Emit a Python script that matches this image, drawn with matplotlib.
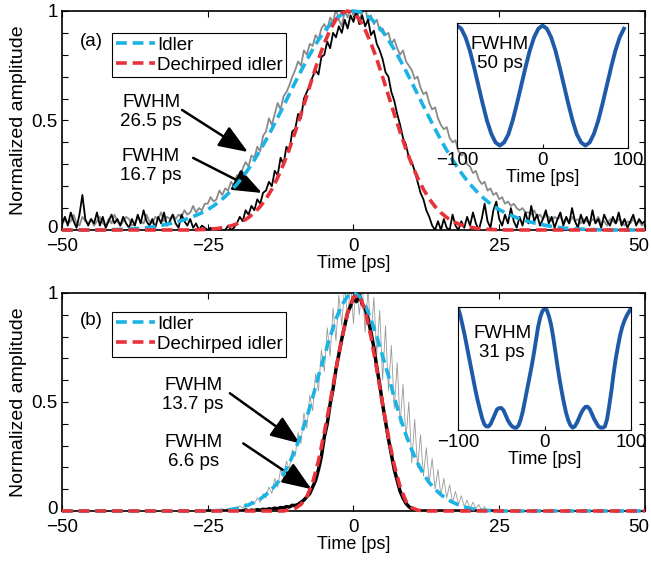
import numpy as np
import matplotlib.pyplot as plt
from matplotlib.ticker import MultipleLocator
from matplotlib.transforms import ScaledTranslation

plt.rcParams['font.family'] = 'Liberation Sans'

#%% time grids
t_fit = np.arange(-50, 51, 1.0)        # fitted gaussians, 1 ps step
t_a = np.arange(-50, 50.5, 0.5)        # measured traces panel (a)
t_b = np.arange(-25, 25.5, 0.5)        # measured traces panel (b)
t_ins_a = np.arange(-100, 100, 5.0)
t_ins_b = np.arange(-100, 102.5, 2.5)

#%% panel (a) measured traces
idler_a = [0.02, 0.05, 0.03, 0.04, 0.07, 0.03, 0.02, 0.06, 0.04, 0.03,
           0.05, 0.02, 0.04, 0.06, 0.03, 0.02, 0.05, 0.03, 0.07, 0.04,
           0.02, 0.04, 0.06, 0.05, 0.02, 0.03, 0.06, 0.04, 0.03, 0.07,
           0.04, 0.03, 0.06, 0.05, 0.08, 0.04, 0.06, 0.05, 0.07, 0.05,
           0.07, 0.06, 0.09, 0.07, 0.08, 0.11, 0.08, 0.10, 0.09, 0.12,
           0.12, 0.15, 0.13, 0.14, 0.18, 0.16, 0.19, 0.18, 0.22, 0.20,
           0.25, 0.23, 0.28, 0.31, 0.29, 0.34, 0.33, 0.38, 0.36, 0.43,
           0.45, 0.51, 0.48, 0.53, 0.58, 0.55, 0.61, 0.63, 0.66, 0.70,
           0.73, 0.77, 0.75, 0.82, 0.80, 0.85, 0.84, 0.89, 0.87, 0.92,
           0.94, 0.91, 0.97, 0.95, 1.01, 0.96, 0.93, 1.00, 0.97, 1.02,
           0.98, 1.01, 0.96, 0.99, 1.02, 0.95, 0.98, 0.94, 0.96, 0.91,
           0.92, 0.89, 0.90, 0.85, 0.87, 0.83, 0.80, 0.82, 0.77, 0.75,
           0.73, 0.69, 0.70, 0.65, 0.62, 0.63, 0.58, 0.55, 0.56, 0.51,
           0.48, 0.46, 0.47, 0.42, 0.40, 0.41, 0.36, 0.34, 0.35, 0.30,
           0.29, 0.26, 0.27, 0.23, 0.21, 0.22, 0.18, 0.19, 0.16, 0.17,
           0.14, 0.15, 0.12, 0.13, 0.11, 0.12, 0.10, 0.09, 0.10, 0.08,
           0.08, 0.07, 0.09, 0.06, 0.07, 0.05, 0.07, 0.06, 0.04, 0.06,
           0.05, 0.06, 0.04, 0.05, 0.03, 0.06, 0.04, 0.05, 0.03, 0.05,
           0.04, 0.03, 0.05, 0.04, 0.06, 0.03, 0.04, 0.02, 0.05, 0.04,
           0.03, 0.05, 0.04, 0.02, 0.04, 0.03, 0.05, 0.03, 0.04, 0.02,
           0.03]
dech_a = [0.03, 0.06, 0.02, 0.08, 0.04, 0.01, 0.07, 0.16, 0.05, 0.02,
          0.05, 0.03, 0.08, 0.02, 0.06, 0.01, 0.04, 0.07, 0.03, 0.05,
          0.02, 0.06, 0.03, 0.01, 0.05, 0.02, 0.07, 0.03, 0.09, 0.04,
          0.02, 0.05, 0.01, 0.06, 0.03, 0.08, 0.02, 0.04, 0.07, 0.03,
          0.01, 0.07, 0.04, 0.02, 0.05, 0.01, 0.03, 0.00, 0.02, 0.01,
          0.00, 0.01, 0.00, 0.00, 0.01, 0.00, 0.00, 0.02, 0.00, 0.01,
          0.03, 0.06, 0.04, 0.09, 0.07, 0.11, 0.09, 0.14, 0.12, 0.17,
          0.18, 0.22, 0.20, 0.27, 0.25, 0.33, 0.30, 0.38, 0.36, 0.45,
          0.46, 0.53, 0.51, 0.60, 0.63, 0.66, 0.70, 0.73, 0.71, 0.79,
          0.80, 0.86, 0.83, 0.90, 0.88, 0.93, 0.90, 0.96, 0.92, 0.98,
          0.95, 1.00, 0.94, 0.98, 0.93, 0.96, 0.89, 0.91, 0.85, 0.82,
          0.78, 0.72, 0.70, 0.63, 0.59, 0.53, 0.48, 0.42, 0.39, 0.33,
          0.31, 0.27, 0.22, 0.17, 0.14, 0.09, 0.06, 0.02, 0.00, 0.04,
          0.00, 0.05, 0.01, 0.00, 0.07, 0.02, 0.00, 0.04, 0.01, 0.06,
          0.02, 0.08, 0.03, 0.00, 0.05, 0.12, 0.04, 0.01, 0.09, 0.13,
          0.05, 0.02, 0.07, 0.03, 0.10, 0.04, 0.01, 0.06, 0.02, 0.08,
          0.03, 0.11, 0.04, 0.07, 0.02, 0.05, 0.09, 0.03, 0.06, 0.01,
          0.05, 0.08, 0.02, 0.06, 0.03, 0.10, 0.04, 0.01, 0.07, 0.03,
          0.06, 0.02, 0.09, 0.03, 0.05, 0.01, 0.07, 0.04, 0.02, 0.06,
          0.03, 0.08, 0.02, 0.05, 0.01, 0.04, 0.07, 0.02, 0.05, 0.03,
          0.04]

#%% panel (a) gaussian fits
fit_idler_a = [0, 0, 0, 0, 0, 0, 0, 0, 0.001, 0.002,
               0.003, 0.004, 0.005, 0.007, 0.009, 0.012, 0.016, 0.021, 0.026, 0.032,
               0.039, 0.047, 0.056, 0.067, 0.079, 0.093, 0.110, 0.130, 0.153, 0.180,
               0.209, 0.242, 0.279, 0.320, 0.364, 0.411, 0.461, 0.513, 0.566, 0.620,
               0.674, 0.726, 0.777, 0.824, 0.868, 0.906, 0.939, 0.965, 0.984, 0.996,
               1.000,
               0.996, 0.984, 0.965, 0.939, 0.906, 0.868, 0.824, 0.777, 0.726, 0.674,
               0.620, 0.566, 0.513, 0.461, 0.411, 0.364, 0.320, 0.279, 0.242, 0.209,
               0.180, 0.153, 0.130, 0.110, 0.093, 0.079, 0.067, 0.056, 0.047, 0.039,
               0.032, 0.026, 0.021, 0.016, 0.012, 0.009, 0.007, 0.005, 0.004, 0.003,
               0.002, 0.001, 0, 0, 0, 0, 0, 0, 0, 0]
fit_dech_a = ([0.0] * 20 +
              [0, 0, 0, 0.001, 0.002, 0.003, 0.005, 0.008, 0.013, 0.019,
               0.028, 0.040, 0.057, 0.079, 0.107, 0.142, 0.186, 0.239, 0.300, 0.370,
               0.447, 0.529, 0.614, 0.699, 0.780, 0.853, 0.914, 0.961, 0.990, 1.000,
               0.990,
               0.961, 0.914, 0.853, 0.780, 0.699, 0.614, 0.529, 0.447, 0.370, 0.300,
               0.239, 0.186, 0.142, 0.107, 0.079, 0.057, 0.040, 0.028, 0.019, 0.013,
               0.008, 0.005, 0.003, 0.002, 0.001, 0, 0, 0, 0, 0] +
              [0.0] * 20)

#%% panel (b) measured traces
idler_b = [0.0, 0.004, 0.0, 0.008, 0.002, 0.01, 0.003, 0.012, 0.005, 0.016,
           0.008, 0.024, 0.012, 0.035, 0.02, 0.045, 0.03, 0.06, 0.04, 0.08,
           0.06, 0.11, 0.08, 0.15, 0.11, 0.19, 0.15, 0.23, 0.19, 0.28,
           0.25, 0.36, 0.31, 0.45, 0.38, 0.53, 0.46, 0.63, 0.55, 0.74,
           0.64, 0.84, 0.71, 0.93, 0.78, 0.99, 0.85, 1.04, 0.88, 1.05,
           0.86, 1.06, 0.90, 1.04, 0.82, 1.02, 0.80, 0.98, 0.72, 0.92,
           0.60, 0.85, 0.55, 0.76, 0.47, 0.68, 0.40, 0.58, 0.33, 0.50,
           0.22, 0.42, 0.20, 0.35, 0.16, 0.29, 0.13, 0.24, 0.10, 0.19,
           0.07, 0.15, 0.06, 0.12, 0.04, 0.09, 0.03, 0.07, 0.02, 0.05,
           0.01, 0.04, 0.01, 0.03, 0.0, 0.02, 0.0, 0.01, 0.0, 0.005,
           0.0]
dech_b = [0, 0, 0, 0, 0, 0, 0, 0, 0, 0,
          0, 0, 0, 0.005, 0, 0.004, 0.002, 0.006, 0.003, 0.008,
          0.006, 0.01, 0.008, 0.013, 0.01, 0.016, 0.014, 0.02, 0.018, 0.026,
          0.025, 0.03, 0.04, 0.05, 0.065, 0.08, 0.11, 0.14, 0.19, 0.25,
          0.34, 0.40, 0.49, 0.56, 0.65, 0.72, 0.79, 0.85, 0.91, 0.94,
          0.98, 0.96, 0.99, 0.95, 0.93, 0.88, 0.82, 0.75, 0.66, 0.58,
          0.49, 0.41, 0.33, 0.26, 0.19, 0.14, 0.09, 0.06, 0.035, 0.02,
          0.01, 0.005, 0, 0, 0, 0, 0, 0, 0, 0,
          0, 0, 0, 0, 0, 0, 0, 0, 0, 0,
          0, 0, 0, 0, 0, 0, 0, 0, 0, 0,
          0]

#%% panel (b) fits
fit_idler_b = ([0.0] * 20 +
               [0, 0, 0, 0, 0, 0, 0.001, 0.002, 0.004, 0.007,
                0.012, 0.019, 0.028, 0.04, 0.055, 0.075, 0.10, 0.13, 0.17, 0.22,
                0.28, 0.35, 0.43, 0.52, 0.62, 0.71, 0.80, 0.88, 0.945, 0.985,
                1.0,
                0.985, 0.945, 0.88, 0.80, 0.71, 0.62, 0.52, 0.43, 0.35, 0.28,
                0.22, 0.17, 0.13, 0.10, 0.075, 0.055, 0.04, 0.028, 0.019, 0.012,
                0.007, 0.004, 0.002, 0.001, 0, 0, 0, 0, 0, 0] +
               [0.0] * 20)
fit_dech_b = ([0.0] * 30 +
              [0, 0, 0, 0, 0, 0, 0, 0, 0, 0.005,
               0.012, 0.03, 0.065, 0.13, 0.23, 0.36, 0.50, 0.65, 0.79, 0.91,
               0.98,
               0.99, 0.92, 0.80, 0.65, 0.49, 0.34, 0.21, 0.11, 0.045, 0.015,
               0.004, 0, 0, 0, 0, 0, 0, 0, 0, 0] +
              [0.0] * 30)

#%% insets (autocorrelation)
ins_a = [0.98, 0.955, 0.885, 0.78, 0.645, 0.50, 0.355, 0.22, 0.115, 0.045,
         0.02, 0.045, 0.11, 0.22, 0.355, 0.50, 0.645, 0.78, 0.885, 0.955,
         0.98, 0.955, 0.885, 0.78, 0.645, 0.50, 0.355, 0.22, 0.11, 0.045,
         0.02, 0.045, 0.115, 0.22, 0.355, 0.50, 0.645, 0.78, 0.885, 0.955]
ins_b = [0.99, 0.93, 0.85, 0.77, 0.68, 0.59, 0.50, 0.41, 0.32, 0.24,
         0.17, 0.10, 0.05, 0.03, 0.03, 0.05, 0.09, 0.13, 0.17, 0.18,
         0.18, 0.16, 0.12, 0.08, 0.05, 0.03, 0.02, 0.02, 0.04, 0.09,
         0.16, 0.25, 0.34, 0.43, 0.52, 0.62, 0.73, 0.84, 0.92, 0.97,
         0.99,
         0.98, 0.93, 0.86, 0.76, 0.64, 0.52, 0.41, 0.31, 0.22, 0.14,
         0.08, 0.04, 0.02, 0.03, 0.06, 0.10, 0.14, 0.17, 0.19, 0.19,
         0.17, 0.13, 0.09, 0.06, 0.03, 0.02, 0.02, 0.03, 0.09, 0.20,
         0.32, 0.46, 0.58, 0.68, 0.77, 0.84, 0.89, 0.93, 0.96, 0.99]

BLUE = '#1ab3e6'
RED = '#e8323a'
INS = '#1f5aa8'
FS = 13.5
arrow = dict(arrowstyle='-|>,head_length=0.9,head_width=0.35', mutation_scale=20,
             lw=1.8, color='k', shrinkA=0, shrinkB=0)

fig = plt.figure(figsize=(6.51, 5.63), dpi=100)

panels = [
    dict(rect=[0.0952, 0.5915, 0.8955, 0.389], inset=[0.702, 0.737, 0.263, 0.222],
         t=t_a, idler=idler_a, dech=dech_a, fi=fit_idler_a, fd=fit_dech_a,
         gray_lw=1.3, black_lw=1.3, gray_c='#8a8a8a', tag='(a)', leg_top=0.90,
         notes=[('FWHM\n26.5 ps', (-34.7, 0.54), (-18.1, 0.356), (-29.4, 0.548)),
                ('FWHM\n16.7 ps', (-34.8, 0.29), (-15.7, 0.169), (-27.5, 0.329))],
         ins_t=t_ins_a, ins_y=ins_a, ins_txt='FWHM\n50 ps', ins_xy=(-50, 0.75)),
    dict(rect=[0.0952, 0.0924, 0.8955, 0.3872], inset=[0.704, 0.236, 0.265, 0.218],
         t=t_b, idler=idler_b, dech=dech_b, fi=fit_idler_b, fd=fit_dech_b,
         gray_lw=0.6, black_lw=2.5, gray_c='#999999', tag='(b)', leg_top=0.913,
         notes=[('FWHM\n13.7 ps', (-27.5, 0.53), (-9.2, 0.31), (-21.2, 0.54)),
                ('FWHM\n6.6 ps', (-27.4, 0.27), (-7.2, 0.10), (-18.9, 0.31))],
         ins_t=t_ins_b, ins_y=ins_b, ins_txt='FWHM\n31 ps', ins_xy=(-49, 0.71)),
]

for p in panels:
    ax = fig.add_axes(p['rect'])
    ax.plot(p['t'], p['idler'], color=p['gray_c'], lw=p['gray_lw'], zorder=2)
    ax.plot(p['t'], p['dech'], color='k', lw=p['black_lw'], zorder=3)
    l1, = ax.plot(t_fit, p['fi'], color=BLUE, lw=2.6, dashes=(3, 1.6), zorder=4,
                  clip_on=False, label='Idler')
    l2, = ax.plot(t_fit, p['fd'], color=RED, lw=2.6, dashes=(3, 1.6), zorder=5,
                  clip_on=False, label='Dechirped idler')
    ax.set_xlim(-50, 50)
    ax.set_ylim(0, 1)
    ax.set_xticks([-50, -25, 0, 25, 50])
    ax.set_yticks([0, 0.5, 1])
    ax.set_yticklabels(['0', '0.5', '1'])
    ax.yaxis.set_minor_locator(MultipleLocator(0.1))
    ax.tick_params(which='both', direction='in', top=True, right=True,
                   length=4, width=0.8, labelsize=FS, pad=3)
    ax.tick_params(axis='x', pad=6)
    # keep the "50" label inside the picture, lift the y "0" off the x labels
    lab = ax.xaxis.get_major_ticks()[-1].label1
    lab.set_transform(lab.get_transform() + ScaledTranslation(-0.06, 0, fig.dpi_scale_trans))
    lab0 = ax.yaxis.get_major_ticks()[0].label1
    lab0.set_transform(lab0.get_transform() + ScaledTranslation(0, 0.03, fig.dpi_scale_trans))
    for s in ax.spines.values():
        s.set_linewidth(1.2)
    ax.set_xlabel('Time [ps]', fontsize=13, labelpad=0)
    ax.set_ylabel('Normalized amplitude', fontsize=14, labelpad=3)
    ax.text(-44.9, p['leg_top'] - 0.04, p['tag'], fontsize=FS, ha='center', va='center')
    leg = ax.legend(handles=[l1, l2], loc='upper left', bbox_to_anchor=(0.0858, p['leg_top']),
                    fontsize=FS, fancybox=False, edgecolor='k', framealpha=1,
                    borderpad=0.2, labelspacing=0.15, handlelength=2.1,
                    handletextpad=0.1, borderaxespad=0)
    leg.get_frame().set_linewidth(0.8)
    for txt, xy, tip, tail in p['notes']:
        ax.text(xy[0], xy[1], txt, fontsize=FS, ha='center', va='center',
                multialignment='center', linespacing=1.15)
        ax.annotate('', xy=tip, xytext=tail, arrowprops=arrow)

    ins = fig.add_axes(p['inset'])
    ins.plot(p['ins_t'], p['ins_y'], color=INS, lw=2.8)
    ins.set_xlim(-100, 100)
    ins.set_ylim(0, 1)
    ins.set_xticks([-100, 0, 100])
    ins.set_yticks([])
    ins.tick_params(direction='in', length=3, width=0.8, labelsize=FS, pad=3)
    ins.set_xlabel('Time [ps]', fontsize=13, labelpad=0)
    ins.text(p['ins_xy'][0], p['ins_xy'][1], p['ins_txt'], fontsize=FS,
             ha='center', va='center', multialignment='center', linespacing=1.15)

plt.savefig('out.png', dpi=100)
